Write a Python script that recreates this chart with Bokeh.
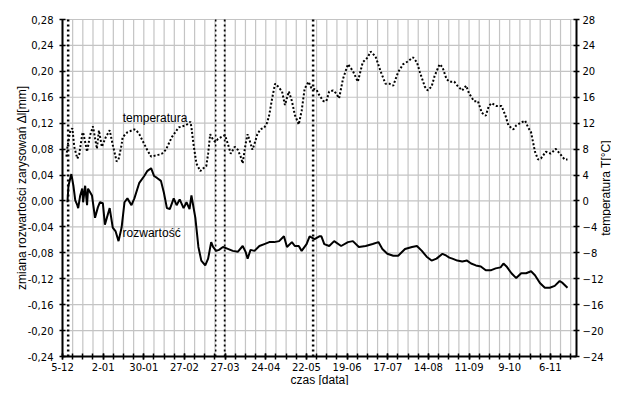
import math
from bokeh.plotting import figure
from bokeh.models import Range1d, LinearAxis, FixedTicker, CustomJSTickFormatter, Label
from bokeh.embed import file_html
from bokeh.resources import INLINE

# x axis: days counted from 5-12
x_start, x_end = 0, 354
tick_days = [0, 28, 56, 84, 112, 140, 168, 196, 224, 252, 280, 308, 336]
tick_labels = ["5-12", "2-01", "30-01", "27-02", "27-03", "24-04", "22-05",
               "19-06", "17-07", "14-08", "11-09", "9-10", "6-11"]
week_days = list(range(0, 351, 7))
y_start, y_end = -0.24, 0.28
left_ticks = [-0.24, -0.20, -0.16, -0.12, -0.08, -0.04, 0.0, 0.04, 0.08, 0.12, 0.16, 0.20, 0.24, 0.28]
t_start, t_end = -24, 28
right_ticks = [-24, -20, -16, -12, -8, -4, 0, 4, 8, 12, 16, 20, 24, 28]

temp_days = [2.7, 3.4, 5.4, 6.8, 8.1, 10.2, 11.5, 13.6, 14.2, 16.3, 16.9, 19.0, 21.0, 23.7, 25.1,
             27.1, 29.8, 32.5, 34.6, 37.3, 38.6, 40.7, 41.4, 44.7, 49.5, 50.8, 52.9, 54.9, 58.3,
             61.0, 63.7, 66.4, 68.5, 71.2, 75.3, 80.0, 84.7, 86.8, 88.1, 88.8, 90.2, 92.2, 94.9,
             97.0, 99.0, 100.3, 101.7, 103.1, 105.1, 107.1, 109.2, 111.9, 113.9, 115.9, 118.6,
             120.7, 122.7, 124.1, 126.1, 127.5, 128.8, 130.8, 132.2, 134.2, 136.3, 139.0, 141.0,
             142.4, 144.4, 146.4, 148.5, 151.2, 153.2, 155.9, 158.0, 160.0, 162.7, 164.7, 166.8,
             169.5, 171.5, 174.9, 176.9, 179.7, 181.7, 183.7, 186.4, 188.5, 190.5, 193.2, 196.6,
             200.0, 203.4, 206.8, 210.2, 212.2, 215.6, 219.0, 222.4, 225.1, 227.8, 231.2, 234.6,
             238.0, 241.4, 244.1, 246.1, 249.5, 251.5, 254.2, 256.3, 259.7, 261.7, 264.4, 266.4,
             269.8, 271.9, 275.3, 278.0, 280.0, 283.4, 286.1, 288.8, 291.5, 293.6, 295.6, 299.0,
             302.4, 305.1, 307.1, 310.5, 312.5, 315.9, 318.6, 320.7, 322.7, 325.4, 327.5, 329.5,
             332.9, 336.3, 339.7, 343.1, 345.8, 347.8]
temp_vals = [6.85, 8.35, 10.9, 11.2, 8.35, 6.55, 7.15, 10.3, 10.6, 8.35, 7.6, 10.15, 11.5, 8.05, 10.9,
             8.35, 9.85, 10.9, 8.65, 6.1, 6.4, 8.65, 9.85, 10.6, 11.05, 10.9, 10.3, 9.4, 7.9,
             6.85, 7.0, 7.15, 7.3, 7.9, 9.85, 11.35, 11.65, 11.95, 12.25, 11.35, 8.8, 5.8, 4.6,
             5.05, 5.35, 7.3, 10.3, 9.7, 9.1, 9.55, 9.85, 10.15, 8.8, 7.3, 8.35,
             7.9, 6.85, 5.8, 8.8, 10.3, 9.4, 7.9, 8.8, 10.3, 11.05, 11.35, 12.1,
             13.3, 15.85, 18.1, 17.65, 16.9, 14.8, 16.9, 15.4, 13.3, 11.8, 13.9, 17.35,
             18.4, 17.35, 17.2, 16.3, 15.4, 15.4, 16.9, 17.05, 16.6, 15.85, 18.85, 21.1,
             20.05, 18.4, 21.4, 22.15, 23.05, 22.3, 20.05, 18.1, 18.1, 17.8, 19.9, 21.1,
             21.55, 22.15, 21.4, 19.9, 17.65, 17.05, 17.65, 19.3, 21.1, 20.65, 18.85, 18.4,
             18.4, 17.8, 17.05, 17.8, 16.6, 15.4, 15.4, 13.6, 13.15, 14.65, 15.1, 14.65,
             14.65, 13.15, 11.65, 11.05, 11.65, 12.1, 12.4, 11.35, 10.6, 7.6, 6.4, 6.55,
             7.6, 7.3, 8.05, 7.15, 6.4, 6.4]

crack_days = [3.4, 4.1, 6.1, 7.5, 8.8, 10.2, 10.8, 12.2, 13.6, 14.2, 15.6, 16.9, 17.6, 20.3, 22.4,
              24.4, 25.8, 27.8, 29.2, 32.5, 34.6, 36.6, 38.6, 40.7, 42.7, 44.7, 47.5, 49.5, 52.9,
              56.3, 58.3, 61.0, 63.1, 65.1, 67.8, 69.8, 71.9, 73.9, 76.6, 78.6, 80.7, 83.4, 85.4,
              87.5, 88.8, 91.5, 93.6, 95.6, 98.3, 100.3, 102.4, 103.7, 105.8, 107.8, 110.5, 113.9,
              117.3, 120.7, 124.1, 126.1, 127.5, 129.5, 132.2, 135.6, 139.0, 142.4, 145.8, 149.2,
              152.5, 154.6, 158.0, 160.0, 162.7, 164.7, 168.1, 170.2, 173.6, 176.9, 178.3, 180.3,
              183.7, 187.1, 191.9, 196.6, 200.0, 204.1, 208.8, 213.6, 217.6, 220.3, 223.7, 227.8,
              231.2, 235.9, 240.7, 244.1, 247.5, 250.8, 254.2, 257.6, 261.7, 264.4, 266.4, 268.5,
              271.9, 275.3, 278.6, 281.4, 284.7, 288.1, 291.5, 294.9, 298.3, 301.7, 303.7, 305.8,
              309.2, 312.5, 315.9, 319.3, 322.7, 325.4, 328.8, 332.2, 335.6, 339.0, 342.4, 344.4,
              347.8]
crack_vals = [-0.002, 0.0235, 0.0415, 0.0235, 0.001, -0.0065, -0.011, 0.0085, 0.019, -0.002, 0.0235,
              -0.0065, 0.019, 0.0085, -0.026, -0.0095, -0.002, -0.0035, -0.0365, -0.011, -0.041,
              -0.047, -0.062, -0.041, -0.002, 0.004, -0.0065, 0.004, 0.028, 0.0385, 0.046, 0.0505,
              0.0385, 0.0355, 0.031, 0.013, -0.011, -0.0125, 0.004, -0.0065, 0.0025, -0.011, -0.002,
              -0.0125, 0.0085, -0.026, -0.071, -0.092, -0.0995, -0.089, -0.0635, -0.071, -0.077,
              -0.0755, -0.071, -0.074, -0.077, -0.0785, -0.0695, -0.0785, -0.089, -0.0755, -0.077,
              -0.0695, -0.0665, -0.0635, -0.0635, -0.062, -0.0545, -0.071, -0.0635, -0.0695,
              -0.0695, -0.077, -0.0665, -0.0545, -0.059, -0.0545, -0.0545, -0.0665, -0.0695,
              -0.062, -0.0695, -0.0635, -0.062, -0.071, -0.0695, -0.0665, -0.0635, -0.074, -0.0815,
              -0.0845, -0.0845, -0.074, -0.071, -0.0695, -0.077, -0.086, -0.092, -0.089, -0.0815,
              -0.0845, -0.0875, -0.089, -0.092, -0.0935, -0.092, -0.0965, -0.0995, -0.101, -0.107,
              -0.107, -0.104, -0.1025, -0.0965, -0.101, -0.1115, -0.119, -0.1115, -0.1115, -0.1085,
              -0.1145, -0.1265, -0.134, -0.134, -0.131, -0.1235, -0.1265, -0.134]

vline_days = [3.9, 105.5, 111.7, 172.6]
vline_widths = [2.5, 1.5, 1.8, 2.5]

x_title = "czas [data]"
left_title = "zmiana rozwartości zarysowań Δl[mm]"
right_title = "temperatura T[°C]"

# ---- layout: the frame fills the canvas; the data area is placed inside it
W, H = 611, 385
fx0, fx1 = 62, 576      # canvas px of x_start / x_end
fy0, fy1 = 19, 356      # canvas px of y_end (top) / y_start (bottom)
sx = (fx1 - fx0) / (x_end - x_start)
sy = (fy1 - fy0) / (y_end - y_start)
st = (fy1 - fy0) / (t_end - t_start)

p = figure(width=W, height=H,
           x_range=Range1d(x_start - fx0 / sx, x_end + (W - fx1) / sx),
           y_range=Range1d(y_start - (H - fy1) / sy, y_end + fy0 / sy),
           output_backend="svg", toolbar_location=None, min_border=0)
p.extra_y_ranges = {"temp": Range1d(t_start - (H - fy1) / st, t_end + fy0 / st)}
p.outline_line_color = None
p.background_fill_color = "white"
p.border_fill_color = "white"
p.xgrid.visible = False
p.ygrid.visible = False

grid_color = "#c4c4c4"
# grid lines within the data area
p.segment(x0=week_days, y0=y_start, x1=week_days, y1=y_end, line_color=grid_color, line_width=1.2)
p.segment(x0=x_start, y0=left_ticks, x1=x_end, y1=left_ticks, line_color=grid_color, line_width=1.2)

# bottom axis
xa = p.xaxis[0]
xa.fixed_location = y_start
xa.bounds = (x_start, x_end)
xa.ticker = FixedTicker(ticks=tick_days, minor_ticks=week_days)
xa.major_label_overrides = {d: l for d, l in zip(tick_days, tick_labels)}

# left axis
ya = p.yaxis[0]
ya.fixed_location = x_start
ya.bounds = (y_start, y_end)
ya.ticker = FixedTicker(ticks=left_ticks)
ya.formatter = CustomJSTickFormatter(code="return tick.toFixed(2).replace('.', ',');")

# right axis
ra = LinearAxis(y_range_name="temp", ticker=FixedTicker(ticks=right_ticks),
                fixed_location=x_end, bounds=(t_start, t_end))
p.add_layout(ra, "right")

for ax in (xa, ya, ra):
    ax.axis_line_color = "black"
    ax.axis_line_width = 2
    ax.major_tick_line_color = "black"
    ax.major_tick_line_width = 1.5
    ax.major_tick_in = 3
    ax.major_tick_out = 3
    ax.minor_tick_line_color = None
    ax.major_label_text_font = "DejaVu Sans"
    ax.major_label_text_font_size = "10px"
    ax.major_label_text_color = "black"

xa.major_label_standoff = 3
ya.major_label_standoff = 6
ra.major_label_standoff = 3

xa.minor_tick_line_color = "black"
xa.minor_tick_line_width = 1.5
xa.minor_tick_in = 3
xa.minor_tick_out = 3

# axis titles
title_style = dict(text_font="Liberation Sans", text_font_size="12px", text_color="black",
                   text_align="center", text_baseline="middle")
p.add_layout(Label(x=(x_start + x_end) / 2, y=y_start, y_offset=-23, text=x_title, **title_style))
p.add_layout(Label(x=x_start, y=(y_start + y_end) / 2, x_offset=-41, text=left_title,
                   angle=math.pi / 2, **title_style))
p.add_layout(Label(x=x_end, y=(t_start + t_end) / 2, y_range_name="temp", x_offset=29,
                   text=right_title, angle=math.pi / 2, **title_style))

# vertical dotted lines
p.segment(x0=vline_days, y0=y_start, x1=vline_days, y1=y_end, line_color="black",
          line_width=vline_widths, line_dash="2 3")

p.line(temp_days, temp_vals, y_range_name="temp", line_color="black", line_width=2, line_dash="2 2")
p.line(crack_days, crack_vals, line_color="black", line_width=2)

p.add_layout(Label(x=41.5, y=0.1285, text="temperatura", text_font="Liberation Sans",
                   text_font_size="12px", text_baseline="middle", text_color="black"))
p.add_layout(Label(x=41.4, y=-0.05, text="rozwartość", text_font="Liberation Sans",
                   text_font_size="12px", text_baseline="middle", text_color="black"))

open("out.html", "w").write(file_html(p, INLINE))
